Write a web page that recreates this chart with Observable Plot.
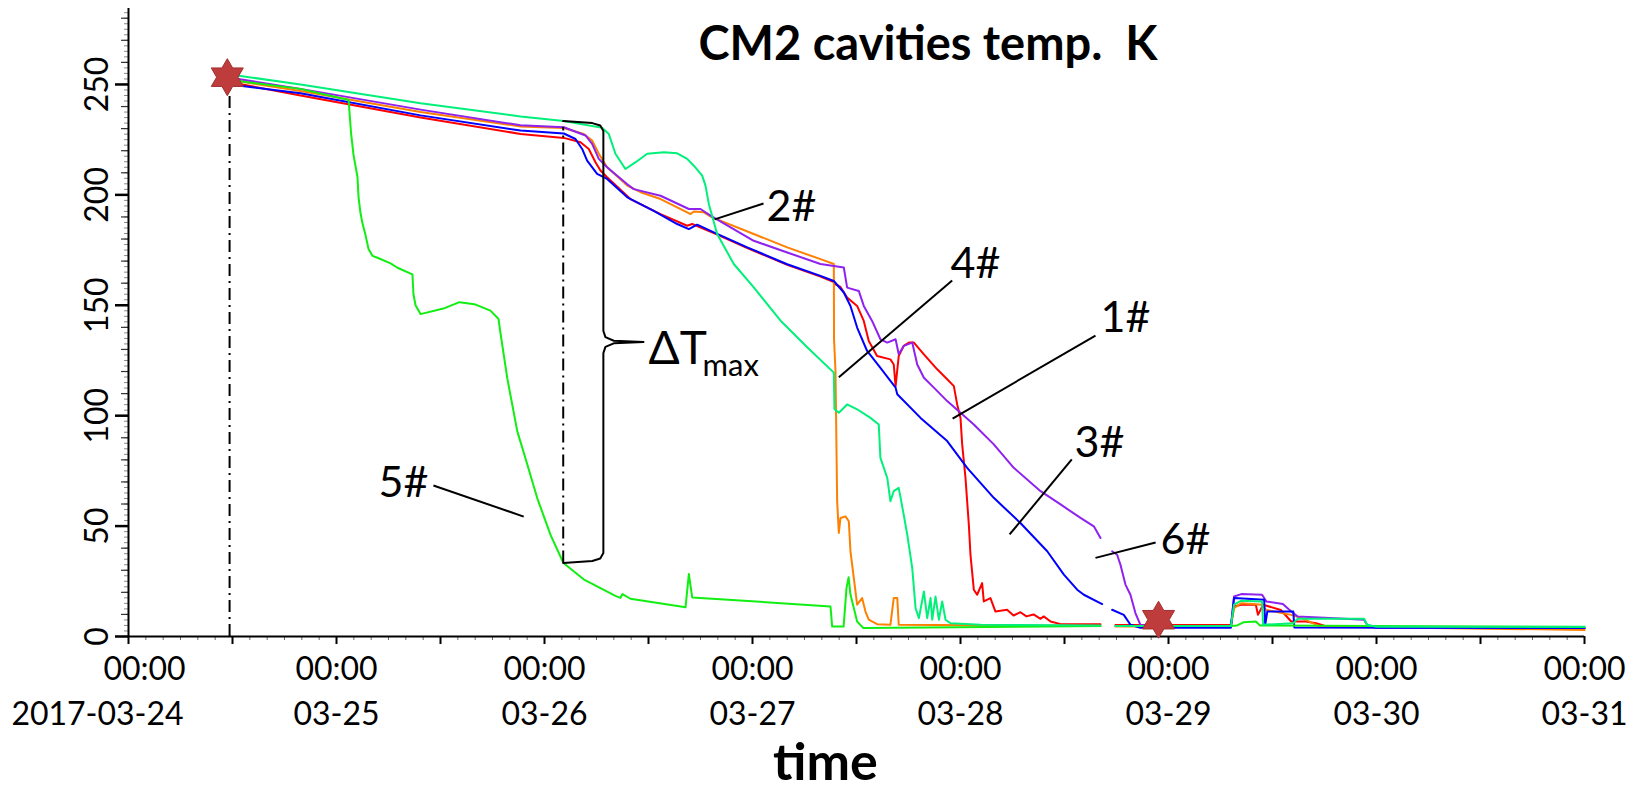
<!DOCTYPE html>
<html>
<head>
<meta charset="utf-8">
<script src="https://cdn.jsdelivr.net/npm/d3@7"></script>
<script src="https://cdn.jsdelivr.net/npm/@observablehq/plot@0.6"></script>
<style>
  body { margin: 0; background: #fff; }
  #wrap { position: relative; width: 1635px; height: 795px; font-family: Lato, "DejaVu Sans", sans-serif; }
  #title { position: absolute; left: 928px; top: 42px; transform: translate(-50%, -50%);
           font: bold 47px Lato, sans-serif; white-space: pre; color: #000; z-index: 2; }
</style>
</head>
<body>
<div id="wrap"><div id="title">CM2 cavities temp.  K</div></div>
<script>
// Time is given as day offset counted from 2017-03-24 00:00 (UTC), values in K
const START = Date.UTC(2017, 2, 24);

const seriesNames  = ["1#", "2#", "3#", "4#", "5#", "6#"];
const seriesColors = ["#ff0000", "#00f07a", "#0000ff", "#ff8000", "#11ee11", "#8f22ee"];
const drawOrder    = ["1#", "4#", "6#", "3#", "5#", "2#"];

const cav1 = [[0.49,251],[0.827,245],[1.404,235],[1.885,227.6],[2.093,225.8],[2.173,223.8],[2.213,220.8],[2.245,214.8],[2.269,211],[2.301,208],[2.413,198.1],[2.558,191.3],[2.686,186],[2.710,186.8],[2.814,182.7],[2.975,175.9],[3.167,168.3],[3.327,163],[3.391,160.5],[3.399,159.5],[3.423,158.3],[3.455,153.5],[3.503,149.7],[3.535,142.9],[3.559,133.8],[3.599,127],[3.663,125.5],[3.679,123.2],[3.688,113.4],[3.703,127],[3.727,131.6],[3.752,133.1],[3.776,133.1],[3.824,127.8],[3.888,121],[3.936,116.5],[3.968,113.4],[3.984,105.1],[4.0,99],[4.008,87],[4.024,71.8],[4.040,50.7],[4.048,37],[4.064,21.2],[4.080,18.9],[4.104,24.2],[4.112,15.9],[4.144,17.4],[4.168,11.3],[4.224,12.1],[4.255,9.5],[4.288,11],[4.317,9.1],[4.351,10],[4.385,8],[4.400,9.1],[4.433,6.8],[4.481,5.6],[4.673,5.5],[4.70,NaN],[4.745,5.2],[5.30,5.2],[5.315,13.6],[5.35,14.4],[5.42,14.4],[5.43,9.8],[5.455,14.4],[5.54,12],[5.59,6.8],[5.66,6.8],[5.71,6],[5.76,4.5],[7,3.6]];

const cav2 = [[0.49,254.5],[0.827,250],[1.404,241.5],[1.885,235.5],[2.093,233.4],[2.277,230.4],[2.309,227.6],[2.341,218.6],[2.389,211.7],[2.438,214.8],[2.494,218.6],[2.574,219.3],[2.638,218.8],[2.686,216.3],[2.718,213.2],[2.758,208.7],[2.774,204.2],[2.790,195.9],[2.830,182.3],[2.910,168.7],[3.006,158.1],[3.135,143],[3.263,131],[3.391,119.5],[3.394,103],[3.415,101.3],[3.455,105.1],[3.503,102.9],[3.567,99],[3.607,96],[3.615,80.9],[3.648,71.8],[3.663,61.3],[3.679,65.8],[3.703,67.3],[3.727,55.2],[3.744,46.1],[3.768,31],[3.776,21.9],[3.784,12.8],[3.800,8.3],[3.824,20.4],[3.840,8.3],[3.856,17.4],[3.864,7.6],[3.880,18.1],[3.896,7.6],[3.912,15.9],[3.928,7.6],[3.952,6],[4.096,5.3],[4.673,5],[4.70,NaN],[4.745,4.8],[5.30,4.8],[5.315,14.4],[5.35,16.2],[5.45,15.9],[5.455,5.3],[5.60,6],[5.62,8],[5.94,8],[5.955,5.3],[6.0,4.4],[7,4.4]];

const cav3 = [[0.49,250],[0.827,246],[1.404,236],[1.885,229.1],[2.093,227.8],[2.149,225.3],[2.181,220.8],[2.205,215.5],[2.253,209.5],[2.301,207.2],[2.398,198.9],[2.525,192.8],[2.638,186.8],[2.694,184.5],[2.734,186.5],[2.814,183],[2.975,176.2],[3.167,168.6],[3.327,163.3],[3.391,161],[3.439,155.8],[3.471,149.7],[3.503,139.9],[3.551,129.3],[3.615,121.7],[3.688,112.7],[3.696,109.7],[3.808,99],[3.936,88.5],[4.032,76.4],[4.160,62.8],[4.288,51.4],[4.417,38.6],[4.497,28],[4.561,21.2],[4.593,18.9],[4.681,14.7],[4.70,NaN],[4.729,12.1],[4.785,9.8],[4.817,5.3],[4.865,4],[5.30,4],[5.315,17.4],[5.46,16.6],[5.465,5.3],[5.475,11.3],[5.60,11.3],[5.605,4.1],[7,3.8]];

const cav4 = [[0.49,252],[0.827,247],[1.404,237.5],[1.885,231],[2.093,230.3],[2.189,227.6],[2.229,224.6],[2.261,218.6],[2.301,212.5],[2.398,204.2],[2.462,201.2],[2.558,198.1],[2.686,192.1],[2.702,191.3],[2.718,192.5],[2.766,192.1],[2.806,189.8],[3.006,182.3],[3.167,176.2],[3.327,170.9],[3.391,168.7],[3.392,134.6],[3.399,120.2],[3.407,61.3],[3.415,46.9],[3.423,53.7],[3.447,54.4],[3.463,52.2],[3.471,38.6],[3.487,26.5],[3.503,14.4],[3.527,17.4],[3.543,11.3],[3.559,7.6],[3.599,5.6],[3.663,5.3],[3.679,17.4],[3.696,17.4],[3.703,5.3],[4.673,4.8],[4.70,NaN],[4.745,4.5],[5.30,4.5],[5.315,12.8],[5.35,15.1],[5.45,14.4],[5.47,12],[5.59,9.8],[5.64,8.3],[5.73,4.5],[7,3.0]];

const cav5 = [[0.49,252],[0.827,248],[1.058,243],[1.070,228],[1.082,218],[1.101,208],[1.106,199],[1.115,192],[1.125,187],[1.139,182],[1.154,175.5],[1.173,172.4],[1.197,171.5],[1.260,169],[1.293,167],[1.365,164],[1.370,155],[1.380,150],[1.404,146],[1.514,148.5],[1.591,151.4],[1.663,150.5],[1.740,147.6],[1.779,143.8],[1.788,137.6],[1.821,117],[1.869,93],[1.917,78],[1.965,62.7],[2.029,46],[2.091,33.3],[2.188,25.9],[2.341,18.4],[2.365,17.5],[2.375,19.2],[2.413,17.1],[2.678,13.2],[2.694,28.3],[2.710,17.7],[3.375,13.6],[3.383,4.5],[3.438,4.5],[3.452,22],[3.462,26.8],[3.471,19],[3.503,6.8],[3.533,3.8],[4.673,4.8],[4.70,NaN],[4.745,4.8],[5.30,4.8],[5.33,5],[5.36,6.4],[5.42,6.8],[5.44,5],[7,4.3]];

const cav6 = [[0.49,253],[0.827,248],[1.404,238.6],[1.885,231.5],[2.093,230.6],[2.197,226.9],[2.229,223.1],[2.261,216.3],[2.301,212.5],[2.398,204.8],[2.429,202.6],[2.558,199.6],[2.694,193.6],[2.750,193.6],[2.798,190.6],[3.006,179.2],[3.167,173.9],[3.327,168.7],[3.383,167.9],[3.439,167.1],[3.455,158],[3.511,156.5],[3.535,149.7],[3.575,142.9],[3.615,134.6],[3.648,133.1],[3.688,134.6],[3.703,127.8],[3.727,131.6],[3.768,133.1],[3.792,123.2],[3.824,117.2],[3.872,112.7],[3.936,106.6],[4.0,101.3],[4.064,96],[4.160,87],[4.256,76.4],[4.385,65.8],[4.481,59.8],[4.577,53.7],[4.641,49.9],[4.673,44.6],[4.70,NaN],[4.729,38.6],[4.753,37],[4.769,32.5],[4.793,23.5],[4.817,18.9],[4.841,10.6],[4.865,5.3],[4.913,4.5],[5.30,4.5],[5.315,18.1],[5.35,19.2],[5.45,18.9],[5.47,15.9],[5.55,14.7],[5.59,11.3],[5.62,9.1],[5.80,8.3],[5.94,7.6],[5.955,5.3],[6.0,3.8],[7,3.8]];

// Axis ticks and labels
const yTickValues = [0, 50, 100, 150, 200, 250];
const yTickLabels = ["0", "50", "100", "150", "200", "250"];
const xDayOffsets = [0, 1, 2, 3, 4, 5, 6, 7];
const xTimeLabels = ["00:00", "00:00", "00:00", "00:00", "00:00", "00:00", "00:00", "00:00"];
const xDateLabels = ["2017-03-24", "03-25", "03-26", "03-27", "03-28", "03-29", "03-30", "03-31"];

// Event markers (stars) and dash-dot verticals
const starDays   = [0.475, 4.952];
const starValues = [253.3, 7.6];
const eventDays  = [0.486, 2.09];
const eventLow   = [0, 33.3];
const eventHigh  = [253.3, 230.6];

// Annotation labels: text, left edge (day), centre value, leader start, leader end
const annoText   = ["2#", "4#", "1#", "3#", "6#", "5#"];
const annoDay    = [3.067, 3.952, 4.673, 4.548, 4.962, 1.202];
const annoValue  = [194.5, 168.5, 144, 87.4, 43.5, 69.3];
const leadDay1   = [3.053, 3.960, 4.649, 4.535, 4.938, 1.466];
const leadValue1 = [196.1, 161.2, 136.3, 80.2, 42.6, 68.4];
const leadDay2   = [2.818, 3.415, 3.962, 4.236, 4.649, 1.900];
const leadValue2 = [188.9, 117.4, 98.7, 46.2, 35.6, 54.3];
const deltaDay = 2.5, deltaValue = 130.3;

const toDate = d => new Date(START + d * 864e5);
const seriesData = {"1#": cav1, "2#": cav2, "3#": cav3, "4#": cav4, "5#": cav5, "6#": cav6};

const rows = [];
for (const name of drawOrder) for (const [d, v] of seriesData[name]) rows.push({name, t: toDate(d), v});

// Brace between the top (2#) and bottom (5#) temperature at the second event time
const nearest = (arr, d) => arr.reduce((a, b) => Math.abs(b[0] - d) < Math.abs(a[0] - d) ? b : a)[1];
const bDay = eventDays[1];
const bTop = nearest(cav2, bDay), bBot = nearest(cav5, bDay), bMid = (bTop + bBot) / 2;
const bw = 0.193, bt = 0.386;
const braceRel = [
  [0, bTop], [0.14, bTop - 0.9], [0.178, bTop - 2], [bw, bTop - 4.5],
  [bw, bMid + 5], [bw + 0.01, bMid + 2.2], [bw + 0.05, bMid + 0.6], [bt, bMid],
  [bw + 0.05, bMid - 0.6], [bw + 0.01, bMid - 2.2], [bw, bMid - 5],
  [bw, bBot + 4.5], [0.178, bBot + 2], [0.14, bBot + 0.9], [0, bBot]
];
const brace = braceRel.map(([dd, v]) => ({t: toDate(bDay + dd), v}));

const hexagram = {
  draw(context, size) {
    const R = Math.sqrt(size / Math.PI), r = R / Math.sqrt(3);
    for (let i = 0; i < 12; i++) {
      const a = -Math.PI / 2 + i * Math.PI / 6, rad = i % 2 ? r : R;
      const x = rad * Math.cos(a), y = rad * Math.sin(a);
      if (i) context.lineTo(x, y); else context.moveTo(x, y);
    }
    context.closePath();
  }
};

const dayTicks = xDayOffsets.map(toDate);
const timeLabelOf = new Map(dayTicks.map((t, i) => [+t, xTimeLabels[i]]));
const dateLabelOf = new Map(dayTicks.map((t, i) => [+t, xDateLabels[i]]));
const yLabelOf = new Map(yTickValues.map((v, i) => [v, yTickLabels[i]]));
const minorX = d3.utcHour.every(2).range(toDate(0), toDate(7.001));
const majorX = d3.utcHour.every(12).range(toDate(0), toDate(7.001));
const YMAX = 284.4;
const font = "Lato, 'DejaVu Sans', sans-serif";

const annos = annoText.map((text, i) => ({text, t: toDate(annoDay[i]), v: annoValue[i]}));
const leaders = annoText.map((text, i) => ({t1: toDate(leadDay1[i]), v1: leadValue1[i], t2: toDate(leadDay2[i]), v2: leadValue2[i]}));
const stars = starDays.map((d, i) => ({t: toDate(d), v: starValues[i]}));
const events = eventDays.map((d, i) => ({t: toDate(d), lo: eventLow[i], hi: eventHigh[i]}));

const chart = Plot.plot({
  width: 1635, height: 795,
  marginLeft: 128, marginRight: 51, marginTop: 8, marginBottom: 159,
  style: {fontFamily: font, background: "transparent", color: "#000", overflow: "visible"},
  x: {type: "utc", domain: [toDate(0), toDate(7)]},
  y: {domain: [0, YMAX]},
  color: {domain: seriesNames, range: seriesColors},
  marks: [
    // y axis ticks
    Plot.axisY(d3.range(0, YMAX, 2.5), {tickSize: 4, stroke: "#8a8a8a", tickFormat: () => "", label: null}),
    Plot.axisY(d3.range(0, YMAX, 10), {tickSize: 7, stroke: "#333", strokeWidth: 1.2, tickFormat: () => "", label: null}),
    Plot.axisY(yTickValues, {tickSize: 13, strokeWidth: 2.5, tickFormat: () => "", label: null}),
    Plot.axisY(yTickValues, {tickSize: 0, tickPadding: 31, tickRotate: -90, textAnchor: "middle", lineAnchor: "middle",
      tickFormat: v => yLabelOf.get(v), fontSize: 32, fontFamily: font, label: null}),
    // x axis ticks
    Plot.axisX(minorX, {tickSize: 4, stroke: "#666", tickFormat: () => "", label: null}),
    Plot.axisX(majorX, {tickSize: 8, strokeWidth: 2, tickFormat: () => "", label: null}),
    Plot.axisX(dayTicks.slice(1), {tickSize: 0, tickPadding: 21, tickFormat: t => timeLabelOf.get(+t), fontSize: 32, fontFamily: font, label: null}),
    Plot.axisX(dayTicks.slice(1), {tickSize: 0, tickPadding: 66, tickFormat: t => dateLabelOf.get(+t), fontSize: 32, fontFamily: font, label: null}),
    Plot.axisX(dayTicks.slice(0, 1), {tickSize: 0, tickPadding: 21, dx: 16, tickFormat: t => timeLabelOf.get(+t), fontSize: 32, fontFamily: font, label: null}),
    Plot.axisX(dayTicks.slice(0, 1), {tickSize: 0, tickPadding: 66, dx: -31, tickFormat: t => dateLabelOf.get(+t), fontSize: 32, fontFamily: font, label: null}),
    // axis lines
    Plot.ruleX([toDate(0)], {strokeWidth: 2}),
    Plot.ruleY([0], {strokeWidth: 2}),
    // axis title
    Plot.text(["time"], {frameAnchor: "bottom", dx: -31, dy: 127, fontSize: 52, fontWeight: "bold", fontFamily: font, lineAnchor: "middle"}),
    // data
    Plot.line(rows, {x: "t", y: "v", z: "name", stroke: "name", strokeWidth: 2, strokeLinejoin: "round"}),
    // dash-dot event lines
    Plot.ruleX(events, {x: "t", y1: "lo", y2: "hi", stroke: "#000", strokeWidth: 2, strokeDasharray: "12,5,2,5"}),
    // brace
    Plot.line(brace, {x: "t", y: "v", stroke: "#000", strokeWidth: 2, curve: "linear"}),
    // leader lines + labels
    Plot.link(leaders, {x1: "t1", y1: "v1", x2: "t2", y2: "v2", stroke: "#000", strokeWidth: 2}),
    Plot.text(annos, {x: "t", y: "v", text: "text", textAnchor: "start", lineAnchor: "middle", fontSize: 43, fontFamily: font, fill: "#000"}),
    Plot.text([{t: toDate(deltaDay), v: deltaValue}], {x: "t", y: "v", text: () => "ΔT", textAnchor: "start", lineAnchor: "middle", fontSize: 46, fontFamily: font}),
    Plot.text([{t: toDate(deltaDay), v: deltaValue}], {x: "t", y: "v", text: () => "max", dx: 54, dy: 17, textAnchor: "start", lineAnchor: "middle", fontSize: 31, fontFamily: font}),
    // stars
    Plot.dot(stars, {x: "t", y: "v", r: 18.5, symbol: hexagram, fill: "#bf3c3c", stroke: "#a32f2f", strokeWidth: 1})
  ]
});
document.getElementById("wrap").appendChild(chart);
</script>
</body>
</html>
